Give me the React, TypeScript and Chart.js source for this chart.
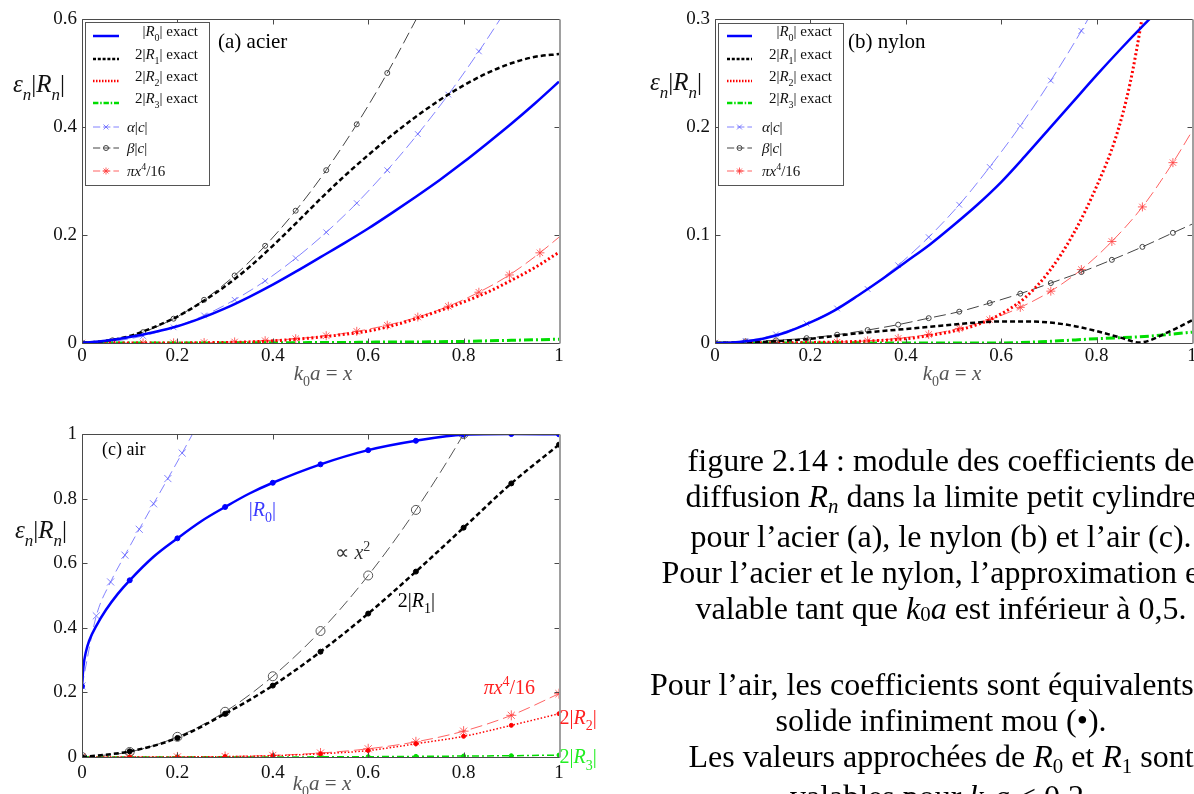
import React, { useEffect, useRef } from 'react';
import { Chart, registerables } from 'chart.js';

Chart.register(...registerables);

const SERIF = '"Liberation Serif", "Times New Roman", Times, serif';

// ---------- ticks ----------
const X_TICKS = [0, 0.2, 0.4, 0.6, 0.8, 1];
const A_Y_TICKS = [0, 0.2, 0.4, 0.6];
const B_Y_TICKS = [0, 0.1, 0.2, 0.3];
const C_Y_TICKS = [0, 0.2, 0.4, 0.6, 0.8, 1];

// ---------- (a) acier ----------
const EXACT_X = [0, 0.05, 0.1, 0.15, 0.2, 0.25, 0.3, 0.35, 0.4, 0.45, 0.5, 0.55, 0.6, 0.65, 0.7, 0.75, 0.8, 0.85, 0.9, 0.95, 1];
const A_R0 = [0, 0.004, 0.011, 0.02, 0.031, 0.046, 0.064, 0.085, 0.108, 0.133, 0.159, 0.185, 0.212, 0.241, 0.271, 0.302, 0.335, 0.37, 0.406, 0.444, 0.484];
const A_R1 = [0, 0.004, 0.013, 0.029, 0.049, 0.075, 0.105, 0.14, 0.18, 0.223, 0.267, 0.309, 0.348, 0.385, 0.419, 0.45, 0.477, 0.5, 0.518, 0.53, 0.535];
const A_R2 = [0, 0, 0, 0, 0, 0.0005, 0.001, 0.002, 0.004, 0.007, 0.011, 0.016, 0.022, 0.032, 0.045, 0.06, 0.076, 0.094, 0.116, 0.14, 0.168];
const A_R3 = [0, 0, 0, 0, 0, 0, 0, 0, 0.0005, 0.0005, 0.001, 0.001, 0.0015, 0.002, 0.002, 0.0025, 0.003, 0.004, 0.005, 0.006, 0.007];

// approximation markers (a),(b)
const MARK_X = [0, 0.064, 0.128, 0.192, 0.256, 0.32, 0.384, 0.448, 0.512, 0.576, 0.64, 0.704, 0.768, 0.832, 0.896, 0.96, 1];
const A_ALPHA = [0, 0.003, 0.013, 0.029, 0.051, 0.08, 0.115, 0.157, 0.205, 0.259, 0.32, 0.387, 0.46, 0.54, 0.626];
const A_BETA = [0, 0.005, 0.02, 0.045, 0.08, 0.125, 0.18, 0.245, 0.32, 0.405, 0.5, 0.605];
const PI_X4_16 = [0, 0, 0.0001, 0.0003, 0.0008, 0.002, 0.0043, 0.0079, 0.0135, 0.0216, 0.033, 0.048, 0.068, 0.094, 0.126, 0.167, 0.196];

// ---------- (b) nylon ----------
const B_R0 = [0, 0.001, 0.004, 0.01, 0.019, 0.03, 0.044, 0.059, 0.075, 0.091, 0.109, 0.128, 0.149, 0.173, 0.198, 0.223, 0.248, 0.272, 0.295, 0.317, 0.338];
const B_R1_X = [0, 0.1, 0.2, 0.3, 0.4, 0.45, 0.5, 0.55, 0.6, 0.65, 0.7, 0.75, 0.8, 0.85, 0.89, 0.95, 1];
const B_R1 = [0, 0.001, 0.004, 0.009, 0.013, 0.015, 0.017, 0.019, 0.02, 0.02, 0.019, 0.016, 0.011, 0.005, 0.0005, 0.01, 0.021];
const B_R2_X = [0, 0.1, 0.2, 0.3, 0.4, 0.45, 0.5, 0.55, 0.6, 0.65, 0.7, 0.75, 0.8, 0.84, 0.87, 0.895, 0.92];
const B_R2 = [0, 0, 0.0005, 0.0015, 0.004, 0.007, 0.011, 0.017, 0.027, 0.042, 0.066, 0.1, 0.145, 0.19, 0.24, 0.3, 0.37];
const B_R3_X = [0, 0.6, 0.7, 0.8, 0.9, 1];
const B_R3 = [0, 0, 0.0015, 0.004, 0.006, 0.01];
const B_ALPHA = [0, 0.002, 0.008, 0.018, 0.032, 0.05, 0.072, 0.098, 0.128, 0.163, 0.201, 0.243, 0.289, 0.34];
const B_BETA = [0, 0.0015, 0.0025, 0.0045, 0.0077, 0.012, 0.017, 0.023, 0.029, 0.037, 0.0457, 0.0555, 0.0657, 0.077, 0.089, 0.102, 0.11];

// ---------- (c) air ----------
const TENTHS = [0, 0.1, 0.2, 0.3, 0.4, 0.5, 0.6, 0.7, 0.8, 0.9, 1];
const C_R0_X = [0, 0.003, 0.008, 0.015, 0.03, 0.05, 0.075, 0.1, 0.15, 0.2, 0.25, 0.3, 0.35, 0.4, 0.5, 0.6, 0.7, 0.8, 0.9, 1];
const C_R0 = [0.219, 0.28, 0.324, 0.36, 0.406, 0.455, 0.505, 0.547, 0.62, 0.677, 0.73, 0.774, 0.815, 0.849, 0.906, 0.95, 0.979, 0.998, 1, 0.999];
const C_ALPHA_X = [0, 0.03, 0.06, 0.09, 0.12, 0.15, 0.18, 0.21, 0.25];
const C_ALPHA = [0.22, 0.437, 0.542, 0.625, 0.705, 0.784, 0.862, 0.941, 1.05];
const C_X2 = [0, 0.0156, 0.0625, 0.14, 0.25, 0.39, 0.562, 0.765, 1.0, 1.27];
const C_R1 = [0, 0.0175, 0.059, 0.134, 0.221, 0.326, 0.444, 0.574, 0.71, 0.847, 0.967];
const C_PI = [0, 0, 0.0003, 0.0016, 0.005, 0.0123, 0.0254, 0.047, 0.08, 0.129, 0.196];
const C_R2 = [0, 0, 0.0002, 0.0012, 0.004, 0.01, 0.02, 0.041, 0.064, 0.098, 0.134];
const C_R3 = [0, 0, 0, 0, 0, 0.0005, 0.001, 0.002, 0.003, 0.004, 0.006];

// ---------- styles ----------
type St = { color: string; width: number; dash: number[]; marker?: string; r?: number; fill?: string };
const ST: Record<string, St> = {
  r0: { color: '#0000ff', width: 2.5, dash: [] },
  r1: { color: '#000000', width: 2.5, dash: [5, 3] },
  r2: { color: '#ff0000', width: 3, dash: [2, 2.5] },
  r3: { color: '#00dd00', width: 3, dash: [9, 3, 2, 3] },
  al: { color: 'rgba(90,90,255,0.75)', width: 1, dash: [12, 5], marker: 'crossRot', r: 4 },
  be: { color: '#444444', width: 1, dash: [12, 5], marker: 'circle', r: 2.5 },
  pi: { color: 'rgba(255,60,60,0.8)', width: 1, dash: [12, 5], marker: 'star', r: 4.5 },
};
const STC: Record<string, St> = {
  r0: { color: '#0000ff', width: 2.5, dash: [], marker: 'circle', r: 2.5, fill: '#0000ff' },
  r1: { color: '#000000', width: 2.5, dash: [5, 3], marker: 'circle', r: 2.5, fill: '#000000' },
  r2: { color: '#ff0000', width: 1.5, dash: [1.5, 2], marker: 'circle', r: 2, fill: '#ff0000' },
  r3: { color: '#00dd00', width: 1.5, dash: [7, 3, 2, 3], marker: 'circle', r: 2, fill: '#00dd00' },
  al: { color: 'rgba(90,90,255,0.75)', width: 1, dash: [10, 5], marker: 'crossRot', r: 5 },
  be: { color: '#555555', width: 1, dash: [12, 5], marker: 'circle', r: 4.5 },
  pi: { color: 'rgba(255,60,60,0.8)', width: 1, dash: [12, 5], marker: 'star', r: 5 },
};

function ds(xs: number[], ys: number[], st: St, markIf?: (x: number, i: number, n: number) => boolean) {
  const n = Math.min(xs.length, ys.length);
  const data = [] as { x: number; y: number }[];
  const radius = [] as number[];
  for (let i = 0; i < n; i++) {
    data.push({ x: xs[i], y: ys[i] });
    radius.push(st.marker && (markIf ? markIf(xs[i], i, n) : true) ? st.r || 3 : 0);
  }
  return {
    data,
    borderColor: st.color,
    borderWidth: st.width,
    borderDash: st.dash,
    fill: false,
    cubicInterpolationMode: 'monotone',
    pointStyle: st.marker || 'circle',
    pointRadius: radius,
    pointHoverRadius: 0,
    pointBorderColor: st.color,
    pointBackgroundColor: st.fill || 'rgba(0,0,0,0)',
    pointBorderWidth: 1,
  };
}

const isTenth = (x: number) => Math.abs(x * 10 - Math.round(x * 10)) < 1e-6;
const notLast = (_x: number, i: number, n: number) => i < n - 1;

// ---------- rich text ----------
type Seg = [string, string?];
function drawRich(ctx: CanvasRenderingContext2D, x: number, y: number, segs: Seg[], size: number, color: string, align = 'center') {
  const parts = segs.map(([t, f = '']) => {
    const small = f.includes('s') || f.includes('p');
    const sz = Math.round(size * (small ? 0.68 : 1));
    const font = `${f.includes('i') ? 'italic ' : ''}${sz}px ${SERIF}`;
    ctx.font = font;
    return { t, font, w: ctx.measureText(t).width, dy: f.includes('s') ? size * 0.32 : f.includes('p') ? -size * 0.4 : 0 };
  });
  const total = parts.reduce((a, p) => a + p.w, 0);
  let cx = align === 'center' ? x - total / 2 : align === 'right' ? x - total : x;
  const base = y + size * 0.32;
  ctx.fillStyle = color;
  ctx.textBaseline = 'alphabetic';
  ctx.textAlign = 'left';
  for (const p of parts) {
    ctx.font = p.font;
    ctx.fillText(p.t, cx, base + p.dy);
    cx += p.w;
  }
}

function drawMarker(ctx: CanvasRenderingContext2D, type: string, x: number, y: number, r: number, color: string, fill?: string) {
  ctx.save();
  ctx.setLineDash([]);
  ctx.strokeStyle = color;
  ctx.lineWidth = 1;
  ctx.beginPath();
  const d = r * Math.SQRT1_2;
  if (type === 'circle') {
    ctx.arc(x, y, r, 0, Math.PI * 2);
    if (fill) { ctx.fillStyle = fill; ctx.fill(); }
    ctx.stroke();
  } else {
    if (type === 'crossRot' || type === 'star') {
      ctx.moveTo(x - d, y - d); ctx.lineTo(x + d, y + d);
      ctx.moveTo(x - d, y + d); ctx.lineTo(x + d, y - d);
    }
    if (type === 'star') {
      ctx.moveTo(x - r, y); ctx.lineTo(x + r, y);
      ctx.moveTo(x, y - r); ctx.lineTo(x, y + r);
    }
    ctx.stroke();
  }
  ctx.restore();
}

const Y_TITLE: Seg[] = [['ε', 'i'], ['n', 'is'], ['|'], ['R', 'i'], ['n', 'is'], ['|']];
const X_TITLE: Seg[] = [['k', 'i'], ['0', 's'], ['a', 'i'], [' = '], ['x', 'i']];

const LEGEND_ITEMS: { st: string; segs: Seg[]; right: boolean }[] = [
  { st: 'r0', segs: [['|'], ['R', 'i'], ['0', 's'], ['| exact']], right: true },
  { st: 'r1', segs: [['2|'], ['R', 'i'], ['1', 's'], ['| exact']], right: true },
  { st: 'r2', segs: [['2|'], ['R', 'i'], ['2', 's'], ['| exact']], right: true },
  { st: 'r3', segs: [['2|'], ['R', 'i'], ['3', 's'], ['| exact']], right: true },
  { st: 'al', segs: [['α', 'i'], ['|'], ['c', 'i'], ['|']], right: false },
  { st: 'be', segs: [['β', 'i'], ['|'], ['c', 'i'], ['|']], right: false },
  { st: 'pi', segs: [['π', 'i'], ['x', 'i'], ['4', 'p'], ['/16']], right: false },
];
const LEGEND_ROWS = [36, 59, 81, 103, 127, 148, 171];

type FigCfg = {
  yTicks: number[];
  yTitle: [number, number];
  xTitle: [number, number];
  tag: { x: number; y: number; text: string; size: number };
  legend?: { x: number; y: number; w: number; h: number; s1: number; s2: number; tr: number; tl: number };
  notes?: { x: number; y: number; segs: Seg[]; color: string }[];
};

function figPlugin(cfg: FigCfg) {
  return {
    id: 'figDecor',
    afterDraw(chart: any) {
      const { ctx, chartArea: ca, scales } = chart;
      const xs = scales.x, ys = scales.y;
      ctx.save();
      ctx.setLineDash([]);
      const L = Math.round(ca.left) + 0.5, R = Math.round(ca.right) + 0.5;
      const T = Math.round(ca.top) + 0.5, B = Math.round(ca.bottom) + 0.5;
      ctx.lineWidth = 1;
      ctx.strokeStyle = '#4a4a4a';
      ctx.beginPath();
      ctx.moveTo(R, T); ctx.lineTo(L, T); ctx.lineTo(L, B); ctx.lineTo(R, B);
      for (const v of X_TICKS) {
        const p = Math.round(xs.getPixelForValue(v)) + 0.5;
        ctx.moveTo(p, B); ctx.lineTo(p, B - 5);
        ctx.moveTo(p, T); ctx.lineTo(p, T + 5);
      }
      for (const v of cfg.yTicks) {
        const p = Math.round(ys.getPixelForValue(v)) + 0.5;
        ctx.moveTo(L, p); ctx.lineTo(L + 5, p);
        ctx.moveTo(R, p); ctx.lineTo(R - 5, p);
      }
      ctx.stroke();
      ctx.strokeStyle = '#a0a0a0';
      ctx.lineWidth = 2;
      ctx.beginPath();
      ctx.moveTo(R + 0.5, T); ctx.lineTo(R + 0.5, B);
      ctx.stroke();

      // titles
      drawRich(ctx, cfg.yTitle[0], cfg.yTitle[1], Y_TITLE, 25, '#111');
      drawRich(ctx, cfg.xTitle[0], cfg.xTitle[1], X_TITLE, 21, '#555');
      ctx.font = `${cfg.tag.size}px ${SERIF}`;
      ctx.fillStyle = '#000';
      ctx.textBaseline = 'middle';
      ctx.textAlign = 'left';
      ctx.fillText(cfg.tag.text, cfg.tag.x, cfg.tag.y);

      // legend
      const lg = cfg.legend;
      if (lg) {
        ctx.fillStyle = '#fff';
        ctx.fillRect(lg.x, lg.y, lg.w, lg.h);
        ctx.strokeStyle = '#555';
        ctx.lineWidth = 1;
        ctx.strokeRect(lg.x + 0.5, lg.y + 0.5, lg.w, lg.h);
        LEGEND_ITEMS.forEach((it, i) => {
          const st = ST[it.st];
          const y = LEGEND_ROWS[i];
          ctx.save();
          ctx.strokeStyle = st.color;
          ctx.lineWidth = Math.min(st.width, 2.5);
          ctx.setLineDash(st.dash.length ? st.dash.map((d) => Math.max(1.5, d * 0.6)) : []);
          ctx.beginPath();
          ctx.moveTo(lg.s1, y); ctx.lineTo(lg.s2, y);
          ctx.stroke();
          ctx.restore();
          if (st.marker) drawMarker(ctx, st.marker, (lg.s1 + lg.s2) / 2, y, st.marker === 'circle' ? 2.5 : 3.5, st.color, st.fill);
          if (it.right) drawRich(ctx, lg.tr, y - 5, it.segs, 15, '#111', 'right');
          else drawRich(ctx, lg.tl, y, it.segs, 15, '#111', 'left');
        });
      }

      // in-plot notes (data coordinates)
      (cfg.notes || []).forEach((n) => {
        drawRich(ctx, xs.getPixelForValue(n.x), ys.getPixelForValue(n.y), n.segs, 20, n.color);
      });
      ctx.restore();
    },
  };
}

function makeConfig(datasets: any[], yMax: number, yTicks: number[], pad: any, yW: number, xH: number, xPad: number, cfg: FigCfg) {
  const tickFont = { family: SERIF, size: 19 };
  return {
    type: 'line',
    data: { datasets },
    options: {
      responsive: false,
      animation: false,
      devicePixelRatio: 1,
      events: [],
      layout: { padding: pad },
      plugins: { legend: { display: false }, tooltip: { enabled: false } },
      scales: {
        x: {
          type: 'linear', min: 0, max: 1,
          afterBuildTicks: (s: any) => { s.ticks = X_TICKS.map((v) => ({ value: v })); },
          afterFit: (s: any) => { s.height = xH; },
          grid: { display: false, drawTicks: false },
          border: { display: false },
          ticks: { font: tickFont, color: '#111', padding: xPad, maxRotation: 0, autoSkip: false, callback: (v: number) => String(v) },
        },
        y: {
          type: 'linear', min: 0, max: yMax,
          afterBuildTicks: (s: any) => { s.ticks = yTicks.map((v) => ({ value: v })); },
          afterFit: (s: any) => { s.width = yW; },
          grid: { display: false, drawTicks: false },
          border: { display: false },
          ticks: { font: tickFont, color: '#111', padding: 5, autoSkip: false, callback: (v: number) => String(v) },
        },
      },
    },
    plugins: [figPlugin(cfg)],
  };
}

function configA() {
  return makeConfig(
    [
      ds(EXACT_X, A_R0, ST.r0),
      ds(EXACT_X, A_R1, ST.r1),
      ds(EXACT_X, A_R2, ST.r2),
      ds(EXACT_X, A_R3, ST.r3),
      ds(MARK_X, A_ALPHA, ST.al),
      ds(MARK_X, A_BETA, ST.be),
      ds(MARK_X, PI_X4_16, ST.pi, notLast),
    ],
    0.6, A_Y_TICKS, { left: 0, top: 19, right: 41, bottom: 0 }, 82, 52, 2,
    {
      yTicks: A_Y_TICKS,
      yTitle: [39, 84],
      xTitle: [323, 373],
      tag: { x: 218, y: 42, text: '(a) acier', size: 21 },
      legend: { x: 85, y: 22, w: 124, h: 163, s1: 93, s2: 119, tr: 198, tl: 127 },
    }
  );
}

function configB() {
  return makeConfig(
    [
      ds(EXACT_X, B_R0, ST.r0),
      ds(B_R1_X, B_R1, ST.r1),
      ds(B_R2_X, B_R2, ST.r2),
      ds(B_R3_X, B_R3, ST.r3),
      ds(MARK_X, B_ALPHA, ST.al),
      ds(MARK_X, B_BETA, ST.be, notLast),
      ds(MARK_X, PI_X4_16, ST.pi, notLast),
    ],
    0.3, B_Y_TICKS, { left: 0, top: 19, right: 28, bottom: 0 }, 115, 52, 2,
    {
      yTicks: B_Y_TICKS,
      yTitle: [76, 82],
      xTitle: [352, 373],
      tag: { x: 248, y: 42, text: '(b) nylon', size: 21 },
      legend: { x: 118, y: 23, w: 125, h: 162, s1: 127, s2: 152, tr: 232, tl: 162 },
    }
  );
}

function configC() {
  return makeConfig(
    [
      ds(C_R0_X, C_R0, STC.r0, isTenth),
      ds(TENTHS, C_R1, STC.r1),
      ds(TENTHS, C_R2, STC.r2),
      ds(TENTHS, C_R3, STC.r3),
      ds(C_ALPHA_X, C_ALPHA, STC.al, notLast),
      ds(TENTHS, C_X2, STC.be),
      ds(TENTHS, C_PI, STC.pi),
    ],
    1, C_Y_TICKS, { left: 0, top: 34, right: 61, bottom: 0 }, 82, 37, 5,
    {
      yTicks: C_Y_TICKS,
      yTitle: [41, 130],
      xTitle: [322, 383],
      tag: { x: 102, y: 50, text: '(c) air', size: 18 },
      notes: [
        { x: 0.378, y: 0.767, segs: [['|'], ['R', 'i'], ['0', 's'], ['|']], color: '#3a3aff' },
        { x: 0.568, y: 0.633, segs: [['∝ '], ['x', 'i'], ['2', 'p']], color: '#333' },
        { x: 0.701, y: 0.484, segs: [['2|'], ['R', 'i'], ['1', 's'], ['|']], color: '#000' },
        { x: 0.896, y: 0.216, segs: [['π', 'i'], ['x', 'i'], ['4', 'p'], ['/16']], color: '#ff2020' },
        { x: 1.04, y: 0.123, segs: [['2|'], ['R', 'i'], ['2', 's'], ['|']], color: '#ff2020' },
        { x: 1.04, y: 0.0, segs: [['2|'], ['R', 'i'], ['3', 's'], ['|']], color: '#22ee22' },
      ],
    }
  );
}

function ChartBox({ make, left, top, width, height }: { make: () => any; left: number; top: number; width: number; height: number }) {
  const ref = useRef<HTMLCanvasElement | null>(null);
  useEffect(() => {
    if (!ref.current) return;
    const chart = new Chart(ref.current, make());
    return () => chart.destroy();
  }, []);
  return (
    <canvas
      ref={ref}
      width={width}
      height={height}
      style={{ position: 'absolute', left, top, width, height, display: 'block' }}
    />
  );
}

const subStyle: React.CSSProperties = { fontSize: '0.65em', verticalAlign: 'baseline', position: 'relative', top: '0.3em' };
const sub0Style: React.CSSProperties = { fontSize: '0.65em', verticalAlign: 'baseline', position: 'relative', top: '0.12em' };

export default function App() {
  return (
    <div style={{ position: 'absolute', left: 0, top: 0, width: 1194, height: 794, overflow: 'hidden', background: '#fff' }}>
      <ChartBox make={configA} left={0} top={0} width={600} height={395} />
      <ChartBox make={configB} left={600} top={0} width={620} height={395} />
      <ChartBox make={configC} left={0} top={400} width={620} height={394} />
      <div
        style={{
          position: 'absolute', left: 591, top: 442, width: 700, textAlign: 'center',
          fontFamily: SERIF, fontSize: 32, lineHeight: '36px', whiteSpace: 'nowrap', color: '#000',
        }}
      >
        <div>figure 2.14 : module des coefficients de</div>
        <div>diffusion <i>R</i><i style={subStyle}>n</i> dans la limite petit cylindre</div>
        <div>pour l’acier (a), le nylon (b) et l’air (c).</div>
        <div>Pour l’acier et le nylon, l’approximation est</div>
        <div>valable tant que <i>k</i><span style={sub0Style}>0</span><i>a</i> est inférieur à 0,5.</div>
        <div>&nbsp;</div>
        <div>Pour l’air, les coefficients sont équivalents au</div>
        <div>solide infiniment mou (•).</div>
        <div>Les valeurs approchées de <i>R</i><span style={subStyle}>0</span> et <i>R</i><span style={subStyle}>1</span> sont</div>
        <div>valables pour <i>k</i><span style={sub0Style}>0</span><i>a</i> &lt; 0,2.</div>
      </div>
    </div>
  );
}
